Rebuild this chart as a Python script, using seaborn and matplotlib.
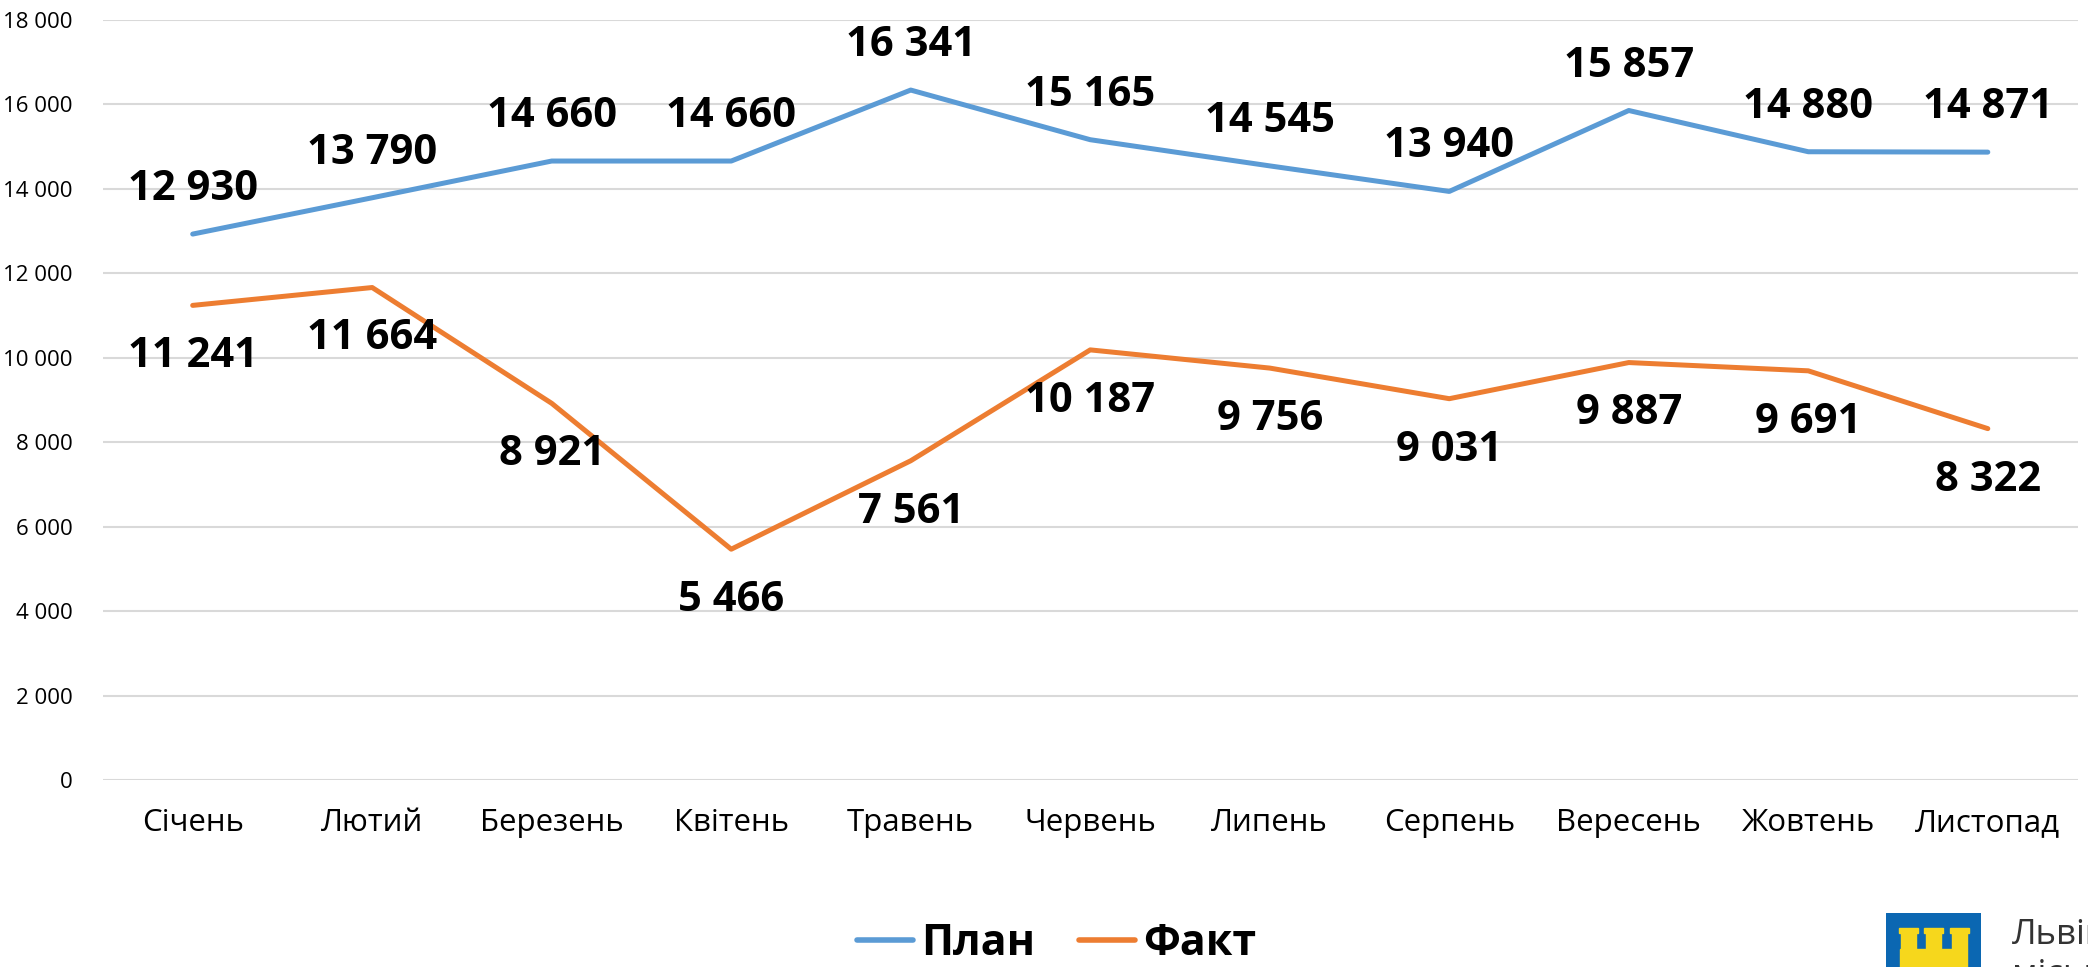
import numpy as np
import pandas as pd
import matplotlib
matplotlib.use("Agg")
import matplotlib.pyplot as plt
import seaborn as sns
from matplotlib.patches import Rectangle

months = ["Січень", "Лютий", "Березень", "Квітень", "Травень", "Червень",
          "Липень", "Серпень", "Вересень", "Жовтень", "Листопад"]
plan = [12930, 13790, 14660, 14660, 16341, 15165, 14545, 13940, 15857, 14880, 14871]
fakt = [11241, 11664, 8921, 5466, 7561, 10187, 9756, 9031, 9887, 9691, 8322]
series_names = ["План", "Факт"]
colors = ["#5B9BD5", "#ED7D31"]
yticks = list(range(0, 18001, 2000))

sns.set_theme(style="white")
plt.rcParams['font.family'] = ['Open Sans', 'DejaVu Sans']
plt.rcParams['text.color'] = 'black'
plt.rcParams['xtick.color'] = 'black'
plt.rcParams['ytick.color'] = 'black'

pos = np.arange(len(months))
df = pd.DataFrame({
    "pos": np.concatenate([pos, pos]),
    "value": plan + fakt,
    "series": [series_names[0]] * len(plan) + [series_names[1]] * len(fakt),
})

fig = plt.figure(figsize=(20.88, 9.67), dpi=100)
ax = fig.add_axes([0.0493, 0.1934, 0.9457, 0.7859])

sns.lineplot(data=df, x="pos", y="value", hue="series", palette=colors,
             linewidth=3.6, sort=False, ax=ax, legend=True)

ax.set_xlim(-0.5, len(months) - 0.5)
ax.set_ylim(0, 18000)
ax.set_yticks(yticks)
ax.set_yticklabels([f"{v:,}".replace(",", " ") for v in yticks], fontsize=16)
ax.set_xticks(pos)
ax.set_xticklabels(months, fontsize=22.5)
ax.tick_params(axis="y", length=0, pad=22)
ax.tick_params(axis="x", length=0, pad=20)
ax.set_xlabel("")
ax.set_ylabel("")
ax.grid(axis="y", color="#D9D9D9", linewidth=1.5)
ax.set_axisbelow(True)
for s in ax.spines.values():
    s.set_visible(False)

def fmt(v):
    return f"{v:,}".replace(",", " ")

for x, v in zip(pos, plan):
    ax.annotate(fmt(v), (x, v), xytext=(0, 32), textcoords="offset points",
                ha="center", va="center", fontsize=30, fontweight="bold",
                color="black")
for x, v in zip(pos, fakt):
    ax.annotate(fmt(v), (x, v), xytext=(0, -37), textcoords="offset points",
                ha="center", va="center", fontsize=30, fontweight="bold",
                color="black")

handles, labels = ax.get_legend_handles_labels()
ax.legend_.remove()
leg = fig.legend(handles, labels, loc="center", bbox_to_anchor=(0.506, 0.024),
                 ncol=2, frameon=False, handlelength=1.3, handletextpad=0.2,
                 columnspacing=1.0, prop={"weight": "bold", "size": 31})
for line in leg.get_lines():
    line.set_linewidth(4)

# logo in the corner (cut off by the edge)
lax = fig.add_axes([1886 / 2088, 0, 95 / 2088, 54 / 967])
lax.set_xlim(0, 95)
lax.set_ylim(0, 54)
lax.axis("off")
lax.add_patch(Rectangle((0, 0), 95, 54, color="#0B67B2"))
for bx in (15, 40, 66):
    lax.add_patch(Rectangle((bx, 18), 15, 20, color="#F6D71C"))
    lax.add_patch(Rectangle((bx - 2, 34), 19, 5, color="#F6D71C"))
lax.add_patch(Rectangle((14, 0), 67, 18, color="#F6D71C"))
fig.text(2012 / 2088, 1 - 935 / 967, "Львів", fontsize=25, color="#333333",
         va="center", ha="left")
fig.text(2012 / 2088, 1 - 975 / 967, "міськ", fontsize=25, color="#333333",
         va="center", ha="left")

fig.savefig("out.png", dpi=100)
